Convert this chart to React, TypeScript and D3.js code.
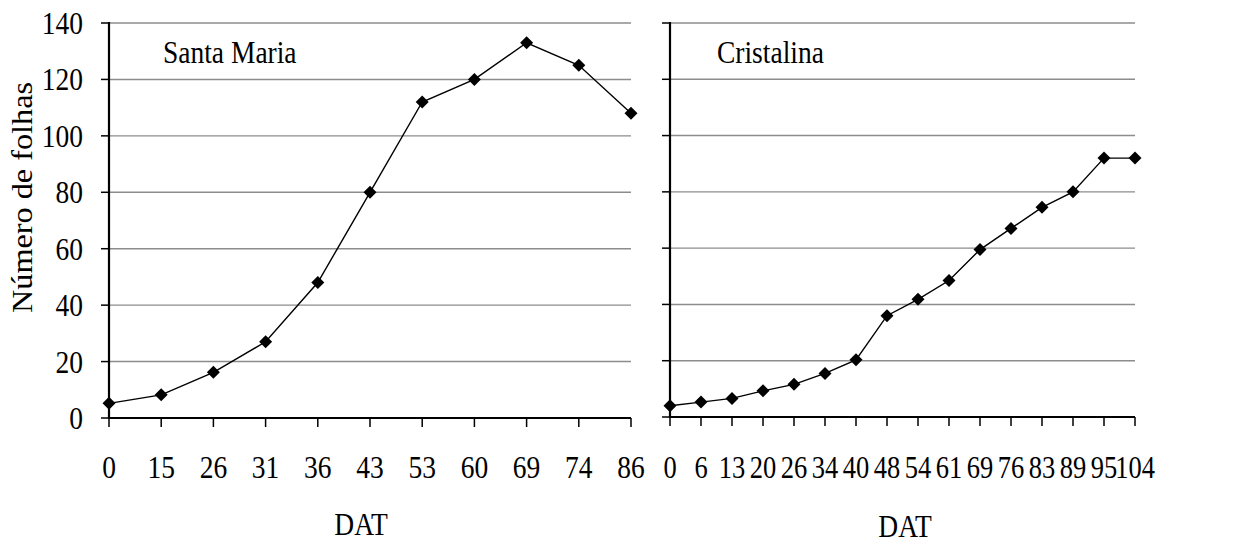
import React from "react";
import * as d3 from "d3";

const yTicks = [0, 20, 40, 60, 80, 100, 120, 140];

const smCategories = ["0", "15", "26", "31", "36", "43", "53", "60", "69", "74", "86"];
const smValues = [5.2, 8.2, 16.2, 27, 48, 80, 112, 120, 133, 125, 108];

const crCategories = ["0", "6", "13", "20", "26", "34", "40", "48", "54", "61", "69", "76", "83", "89", "95", "104"];
const crValues = [4, 5.3, 6.6, 9.3, 11.6, 15.5, 20.3, 36, 41.8, 48.5, 59.5, 67, 74.5, 80, 92, 92];

const FONT = "'Liberation Serif', 'Times New Roman', serif";
const FS = 27.5;
const SY = 1.18;

type TProps = { x: number; y: number; anchor?: "start" | "middle" | "end"; size?: number; sy?: number; children: React.ReactNode };

function T({ x, y, anchor = "start", size = FS, sy = SY, children }: TProps) {
  return (
    <text
      transform={`translate(${x},${y}) scale(1,${sy})`}
      textAnchor={anchor}
      fontFamily={FONT}
      fontSize={size}
      fill="#000"
    >
      {children}
    </text>
  );
}

type PanelProps = {
  title: string;
  cats: string[];
  vals: number[];
  x0: number;
  x1: number;
  yBottom: number;
  showYLabels: boolean;
  titleX: number;
  datX: number;
  datY: number;
  xLabelSize: number;
};

function Panel({ title, cats, vals, x0, x1, yBottom, showYLabels, titleX, datX, datY, xLabelSize }: PanelProps) {
  const x = d3.scalePoint<string>().domain(cats).range([x0, x1]);
  const y = d3.scaleLinear().domain([0, 140]).range([yBottom, 23]);
  const line = d3
    .line<number>()
    .x((_, i) => x(cats[i]) as number)
    .y((d) => y(d));
  const r = 6.5;
  const diamond = `M0,${-r}L${r},0L0,${r}L${-r},0Z`;
  return (
    <g>
      {yTicks.map((t) =>
        t === 0 ? null : (
          <line key={"g" + t} x1={x0} x2={x1} y1={y(t)} y2={y(t)} stroke="#8c8c8c" strokeWidth={1.4} />
        )
      )}
      {yTicks.map((t) => (
        <line key={"yt" + t} x1={x0 - 8} x2={x0} y1={y(t)} y2={y(t)} stroke="#000" strokeWidth={1.5} />
      ))}
      {showYLabels &&
        yTicks.map((t) => (
          <T key={"yl" + t} x={x0 - 26} y={y(t) + 11} anchor="end">
            {t}
          </T>
        ))}
      {cats.map((c) => (
        <line key={"xt" + c} x1={x(c)} x2={x(c)} y1={yBottom} y2={yBottom + 9} stroke="#000" strokeWidth={1.5} />
      ))}
      {cats.map((c) => (
        <T key={"xl" + c} x={x(c) as number} y={478} anchor="middle" size={xLabelSize}>
          {c}
        </T>
      ))}
      <line x1={x0} x2={x1} y1={yBottom} y2={yBottom} stroke="#000" strokeWidth={2.2} />
      <line x1={x0} x2={x0} y1={22} y2={yBottom + 1} stroke="#000" strokeWidth={2.2} />
      <path d={line(vals) || ""} fill="none" stroke="#000" strokeWidth={1.4} />
      {vals.map((v, i) => (
        <path key={"m" + i} d={diamond} transform={`translate(${x(cats[i])},${y(v)})`} fill="#000" />
      ))}
      <T x={titleX} y={63}>
        {title}
      </T>
      <T x={datX} y={datY} anchor="middle" sy={1.12}>
        DAT
      </T>
    </g>
  );
}

export default function App() {
  return (
    <svg
      width={1238}
      height={543}
      viewBox="0 0 1238 543"
      style={{ position: "absolute", left: 0, top: 0, background: "#fff" }}
    >
      <rect x={0} y={0} width={1238} height={543} fill="#fff" />
      <Panel
        title="Santa Maria"
        cats={smCategories}
        vals={smValues}
        x0={109}
        x1={631}
        yBottom={418}
        showYLabels={true}
        titleX={163}
        datX={361}
        datY={535}
        xLabelSize={FS}
      />
      <Panel
        title="Cristalina"
        cats={crCategories}
        vals={crValues}
        x0={670}
        x1={1135}
        yBottom={417}
        showYLabels={false}
        titleX={717}
        datX={905}
        datY={536.5}
        xLabelSize={26.5}
      />
      <text
        transform={`translate(32,197.5) rotate(-90)`}
        textAnchor="middle"
        fontFamily={FONT}
        fontSize={30}
        textLength={231}
        lengthAdjust="spacingAndGlyphs"
        fill="#000"
      >
        Número de folhas
      </text>
    </svg>
  );
}
